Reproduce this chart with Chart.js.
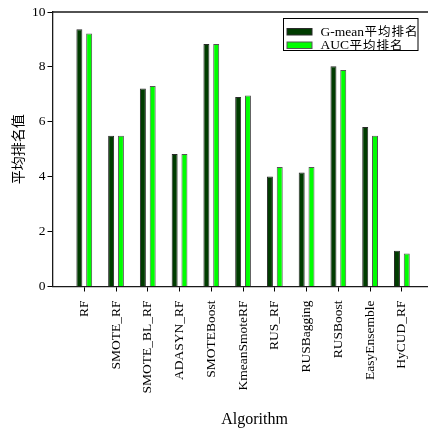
<!DOCTYPE html>
<html>
<head>
<meta charset="utf-8">
<script src="https://cdn.jsdelivr.net/npm/chart.js@4/dist/chart.umd.min.js"></script>
<style>
  html, body { margin: 0; padding: 0; background: #fff; width: 428px; height: 430px; overflow: hidden; }
  #wrap { position: relative; width: 460px; height: 430px; }
</style>
</head>
<body>
<div id="wrap"><canvas id="c" width="460" height="430"></canvas></div>
<script>
// Average rank of each algorithm (lower is better)
const algorithms = ['RF', 'SMOTE_RF', 'SMOTE_BL_RF', 'ADASYN_RF', 'SMOTEBoost', 'KmeanSmoteRF',
                    'RUS_RF', 'RUSBagging', 'RUSBoost', 'EasyEnsemble', 'HyCUD_RF'];
const gmeanRank = [9.37, 5.49, 7.21, 4.83, 8.83, 6.90, 4.01, 4.15, 8.02, 5.81, 1.30];
const aucRank   = [9.22, 5.49, 7.30, 4.83, 8.83, 6.96, 4.35, 4.35, 7.89, 5.49, 1.20];
const seriesNames = ['G-mean平均排名', 'AUC平均排名'];
const yTickValues = [0, 2, 4, 6, 8, 10];

const FONT = '"Liberation Serif", "Noto Sans CJK SC", serif';
const CJK_FONT = '"Noto Sans CJK SC", sans-serif';
Chart.defaults.font.family = FONT;
Chart.defaults.color = '#000';

const toPoints = vals => vals.map((v, i) => ({ x: i + 1, y: v }));

// Box around the plot (top and right edges; left/bottom come from the axes)
const frame = {
  id: 'frame',
  afterDraw(chart) {
    const { ctx, chartArea: a } = chart;
    ctx.save();
    ctx.strokeStyle = '#1a1a1a';
    ctx.lineWidth = 1.3;
    ctx.beginPath();
    ctx.moveTo(a.left, a.top);
    ctx.lineTo(a.right, a.top);
    ctx.lineTo(a.right, a.bottom);
    ctx.stroke();
    ctx.restore();
  }
};

// Boxed legend in the upper right of the plot
const legendBox = {
  id: 'legendBox',
  afterDraw(chart) {
    const { ctx, chartArea: a } = chart;
    const x0 = 283.5, y0 = a.top + 6.5, w = 134.5, h = 32;
    ctx.save();
    ctx.fillStyle = '#fff';
    ctx.fillRect(x0, y0, w, h);
    ctx.strokeStyle = '#000';
    ctx.lineWidth = 1;
    ctx.strokeRect(x0, y0, w, h);
    chart.data.datasets.forEach((ds, i) => {
      const cy = y0 + 13 + i * 13.5;
      ctx.fillStyle = ds.backgroundColor;
      ctx.fillRect(x0 + 3.5, cy - 3, 25, 6.5);
      ctx.strokeStyle = ds.borderColor;
      ctx.lineWidth = 1;
      ctx.strokeRect(x0 + 3.5, cy - 3, 25, 6.5);
      // Latin part in the serif face, Chinese part in the CJK face, slightly spaced
      const m = ds.label.match(/^([\x00-\x7f]*)(.*)$/);
      ctx.fillStyle = '#000';
      ctx.textBaseline = 'middle';
      ctx.textAlign = 'left';
      ctx.font = '13.5px ' + FONT;
      ctx.fillText(m[1], x0 + 37, cy + 0.5);
      const lw = ctx.measureText(m[1]).width;
      ctx.font = '12.5px ' + CJK_FONT;
      ctx.letterSpacing = '1px';
      ctx.fillText(m[2], x0 + 37 + lw + 0.5, cy);
      ctx.letterSpacing = '0px';
    });
    ctx.restore();
  }
};

new Chart(document.getElementById('c'), {
  type: 'bar',
  data: {
    datasets: [
      { label: seriesNames[0], data: toPoints(gmeanRank), backgroundColor: '#003c00', borderColor: '#2a2a2a', borderWidth: 1 },
      { label: seriesNames[1], data: toPoints(aucRank),   backgroundColor: '#00ff00', borderColor: '#555555', borderWidth: 1 }
    ]
  },
  options: {
    responsive: false,
    animation: false,
    devicePixelRatio: 1,
    layout: { padding: { top: 12, right: 3.5, left: 0, bottom: 0 } },
    datasets: { bar: { barPercentage: 0.61, categoryPercentage: 0.617 } },
    plugins: { legend: { display: false }, tooltip: { enabled: false } },
    scales: {
      x: {
        type: 'linear',
        offset: false,
        min: 0,
        max: 12.72,
        afterBuildTicks: s => { s.ticks = algorithms.map((_, i) => ({ value: i + 1 })); },
        afterFit: s => { s.height = 143.5; },
        grid: { display: true, drawOnChartArea: false, drawTicks: true, tickLength: 5, color: '#000', offset: false },
        border: { display: true, color: '#1a1a1a', width: 1.3 },
        ticks: {
          autoSkip: false, minRotation: 90, maxRotation: 90, padding: 9,
          font: { size: 13.5 },
          callback: v => algorithms[v - 1] ?? ''
        },
        title: { display: true, text: 'Algorithm', font: { size: 16 }, padding: { top: 0, bottom: 1 } }
      },
      y: {
        min: 0,
        max: 10,
        afterBuildTicks: s => { s.ticks = yTickValues.map(v => ({ value: v })); },
        afterFit: s => { s.width = 52.5; },
        grid: { display: true, drawOnChartArea: false, drawTicks: true, tickLength: 5, color: '#000' },
        border: { display: true, color: '#1a1a1a', width: 1.3 },
        ticks: { padding: 2, font: { size: 13.5 } },
        title: { display: true, text: '平均排名值', font: { size: 14, family: CJK_FONT }, padding: { top: 9, bottom: 0 } }
      }
    }
  },
  plugins: [frame, legendBox]
});
</script>
</body>
</html>
